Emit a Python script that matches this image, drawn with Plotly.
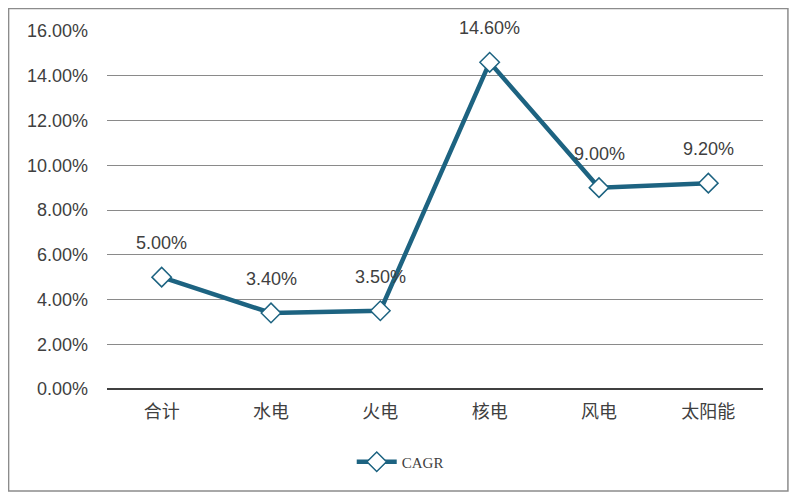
import plotly.graph_objects as go

categories = ["合计", "水电", "火电", "核电", "风电", "太阳能"]
cagr = [5.00, 3.40, 3.50, 14.60, 9.00, 9.20]
y_ticks = [0, 2, 4, 6, 8, 10, 12, 14, 16]
y_tick_text = [f"{v:.2f}%" for v in y_ticks]
series_name = "CAGR"

line_color = "#1d6381"

fig = go.Figure()
fig.add_trace(go.Scatter(
    x=categories, y=cagr, name=series_name, mode="lines+markers",
    line=dict(color=line_color, width=4.5),
    marker=dict(symbol="diamond", size=15, color="white",
                line=dict(color=line_color, width=1.5)),
    cliponaxis=False,
))

for c, v in zip(categories, cagr):
    fig.add_annotation(x=c, y=v, text=f"{v:.2f}%", showarrow=False,
                       yshift=34, font=dict(size=18, color="#404040",
                                             family="Liberation Sans, Arial"))

fig.add_shape(type="rect", xref="paper", yref="paper",
              x0=-0.150, x1=1.038, y0=-0.285, y1=1.063,
              line=dict(color="#8c8c8c", width=1.5), fillcolor="rgba(0,0,0,0)")

fig.update_layout(
    width=784, height=484,
    margin=dict(l=99, r=29, t=23, b=103),
    paper_bgcolor="white", plot_bgcolor="white",
    showlegend=True,
    legend=dict(orientation="h", x=0.447, y=-0.204, xanchor="center",
                yanchor="middle", font=dict(size=15, color="#404040",
                                             family="Liberation Serif"),
                itemwidth=40),
    xaxis=dict(range=[-0.5, len(categories) - 0.5],
               showgrid=False, showline=False, ticks="",
               tickfont=dict(size=18, color="#404040", family="Noto Sans CJK SC"),
               ticklabelstandoff=10),
    yaxis=dict(range=[0, 16], tickvals=y_ticks, ticktext=y_tick_text,
               showgrid=True, gridcolor="#8a8a8a", gridwidth=1,
               zeroline=True, zerolinecolor="#404040", zerolinewidth=1.5,
               showline=False, ticks="",
               tickfont=dict(size=18, color="#404040", family="Liberation Sans, Arial"),
               ticklabelstandoff=18),
)

fig.write_html("out.html")
